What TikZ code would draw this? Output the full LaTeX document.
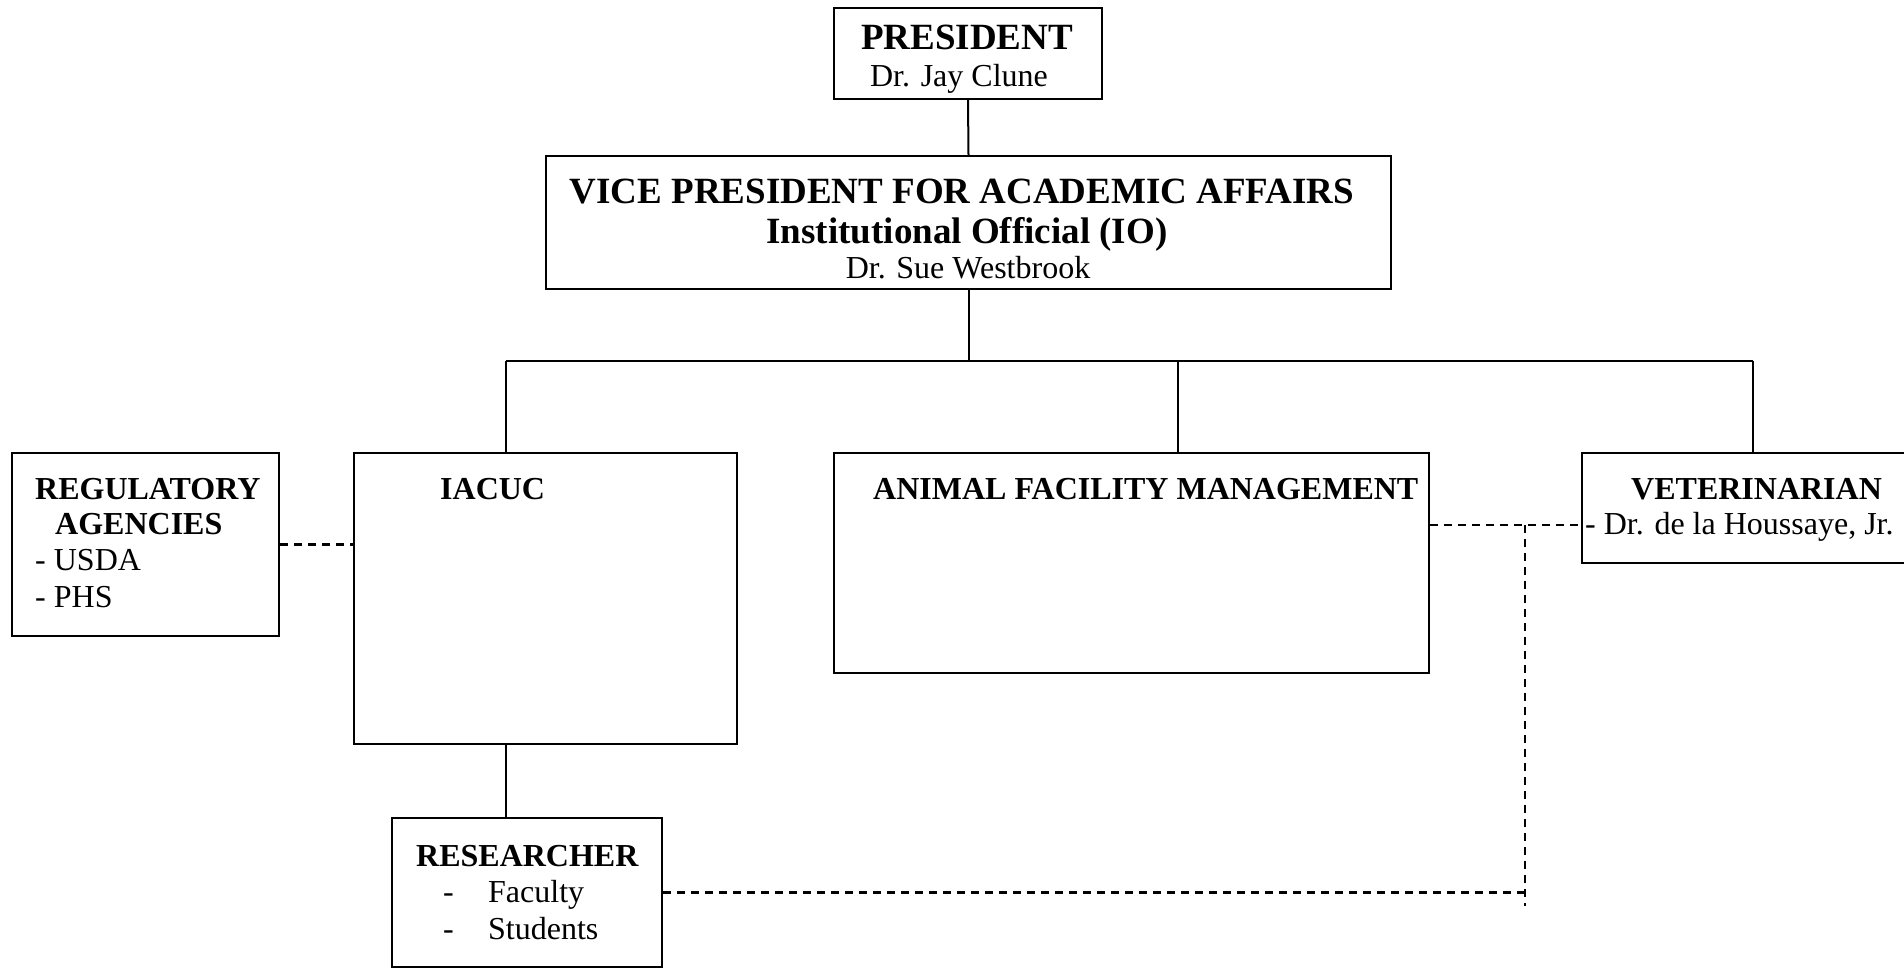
\documentclass[tikz,border=0pt]{standalone}
\usepackage{fontspec}
\setmainfont{Liberation Serif}
\begin{document}
\begin{tikzpicture}[x=1pt,y=-1pt,
  box/.style={draw=black, line width=2pt, inner sep=0pt, anchor=north west},
  txt/.style={inner sep=0pt, anchor=base west},
  ctxt/.style={inner sep=0pt, anchor=base},
  big/.style={font=\fontsize{37}{44}\selectfont\bfseries},
  hd/.style={font=\fontsize{32}{38}\selectfont\bfseries},
  rg/.style={font=\fontsize{32}{38}\selectfont},
  conn/.style={line width=2pt},
  dconn/.style={line width=2.4pt, dash pattern=on 8pt off 6pt}]
\useasboundingbox (0,0) rectangle (1904,969);
% boxes
\node[box, minimum width=268, minimum height=91] (pres) at (833,7) {};
\node[box, minimum width=845, minimum height=133] (vp) at (545,155) {};
\node[box, minimum width=267, minimum height=183] (reg) at (11,452) {};
\node[box, minimum width=383, minimum height=291] (iacuc) at (353,452) {};
\node[box, minimum width=595, minimum height=220] (afm) at (833,452) {};
\node[box, minimum width=360, minimum height=110] (vet) at (1581,452) {};
\node[box, minimum width=270, minimum height=149] (res) at (391,817) {};
% texts
\node[ctxt, big] (t1) at (967,49) {PRESIDENT};
\node[ctxt, rg] (t2) at (959,86) {Dr. Jay Clune};
\node[ctxt, big] (t3) at (962,203) {VICE PRESIDENT FOR ACADEMIC AFFAIRS};
\node[ctxt, big] (t4) at (967,243) {Institutional Official (IO)};
\node[ctxt, rg] (t5) at (968,278) {Dr. Sue Westbrook};
\node[txt, hd] (t6) at (35,499) {REGULATORY};
\node[txt, hd] (t7) at (55,534) {AGENCIES};
\node[txt, rg] (t8) at (35,570) {- USDA};
\node[txt, rg] (t9) at (35,607) {- PHS};
\node[txt, hd] (t10) at (440,499) {IACUC};
\node[txt, hd] (t11) at (873,499) {ANIMAL FACILITY MANAGEMENT};
\node[txt, hd] (t12) at (1631,499) {VETERINARIAN};
\node[txt, rg] (t13) at (1585,534) {- Dr. de la Houssaye, Jr.};
\node[txt, hd] (t14) at (416,866) {RESEARCHER};
\node[txt, rg] (t15) at (443,902) {-};
\node[txt, rg] (t16) at (488,902) {Faculty};
\node[txt, rg] (t17) at (443,939) {-};
\node[txt, rg] (t18) at (488,939) {Students};
% coordinates
\coordinate (busL) at (506,361);
\coordinate (busM) at (1178,361);
\coordinate (busR) at (1753,361);
\coordinate (j) at (1525,525);
\coordinate (jb) at (1525,906);
% solid connectors
\draw[conn] (pres.south) -- (vp.north);
\draw[conn] (vp.south) -- (vp.south |- busL);
\draw[conn] (busL) -- (busR);
\draw[conn] (busL) -- (busL |- iacuc.north);
\draw[conn] (busM) -- (busM |- afm.north);
\draw[conn] (busR) -- (busR |- vet.north);
\draw[conn] (iacuc.south -| busL) -- (res.north -| busL);
% dashed connectors
\draw[dconn] (reg.east) -- (reg.east -| iacuc.west);
\draw[dconn] (afm.east |- j) -- (vet.west |- j);
\draw[dconn] (j) -- (jb);
\draw[dconn] (res.east) -- (res.east -| j);
\end{tikzpicture}
\end{document}
